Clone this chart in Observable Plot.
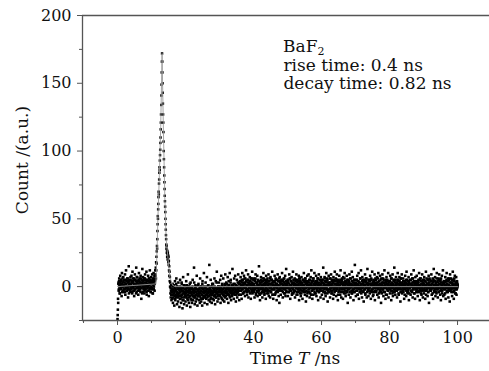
<!DOCTYPE html>
<html><head><meta charset="utf-8">
<script src="https://cdn.jsdelivr.net/npm/d3@7"></script>
<script src="https://cdn.jsdelivr.net/npm/@observablehq/plot@0.6"></script>
<style>body{margin:0;background:#fff} svg{display:block}</style>
</head><body><div id="chart"></div>
<script>
// ---- data ----
const xTicks = [0, 20, 40, 60, 80, 100];
const xMinorTicks = [-10, 10, 30, 50, 70, 90];
const yTicks = [0, 50, 100, 150, 200];
const yMinorTicks = [-25, 25, 75, 125, 175];
const xLabelParts = ["Time ", "T", " /ns"];
const yLabel = "Count /(a.u.)";
const noteName = "BaF";
const noteSub = "2";
const noteLines = ["rise time: 0.4 ns", "decay time: 0.82 ns"];

// before the pulse: t = 0.0 .. 11.1 ns, 0.1 ns sampling (channel A)
const preStart = 0, preStep = 0.1;
const preCounts = [
-24,-17,-12,3,-2,6,1,-5,8,2,-1,4,-7,10,0,3,-3,7,-4,1,
5,-2,9,-6,2,12,-1,4,-3,6,0,-8,3,15,-2,5,1,-4,7,2,
-1,8,3,-5,11,0,4,-3,6,-7,2,9,-2,5,1,14,-4,3,7,-1,
4,-6,2,10,-3,6,0,-2,8,3,-9,5,1,13,-4,7,2,-1,6,-5,
3,9,-2,5,0,11,-6,4,2,-3,8,1,-7,6,3,12,-1,4,-4,7,
2,-2,9,5,-5,3,10,0,6,-3,4,12];
// before the pulse: t = 0.05 .. 11.15 ns (channel B)
const preStart2 = 0.05;
const preCounts2 = [
-21,-9,2,-3,4,0,-5,3,1,-2,5,-1,2,-4,6,0,-3,4,1,-2,
3,0,-4,5,2,-1,4,-3,0,6,-2,3,1,-5,4,0,2,-3,5,1,
-2,4,0,-4,3,6,-1,2,-3,1,5,-2,0,4,-5,2,7,-1,3,0,
-3,5,1,-2,4,0,3,-4,6,1,-1,2,-5,3,0,4,-2,5,1,-3,
6,0,-2,3,1,-4,5,2,-1,4,0,-3,6,1,-2,3,5,-4,2,0,
4,-1,3,-5,6,1,-2,4,8,2,5,9];

// the pulse: t = 11.20 .. 15.95 ns, 0.05 ns sampling
const pkStart = 11.2, pkStep = 0.05;
const pkCounts = [
8,14,6,18,12,22,17,26,30,28,35,41,46,52,50,57,61,66,70,68,
76,79,84,88,86,93,97,101,106,110,116,121,127,134,141,149,158,166,172,
166,158,150,143,135,127,121,114,107,100,94,88,82,77,72,67,63,59,55,50,
46,42,38,35,31,28,30,25,27,22,26,24,20,25,21,23,18,22,16,19,
12,15,8,11,4,7,0,3,-5,-1,-8,-3,1,-6,-10,-4,-2];

// after the pulse: t = 16.0 .. 100.0 ns, 0.1 ns sampling (channel A)
const postStart = 16, postStep = 0.1;
const postCounts = [
-4,-9,2,-12,-6,1,-3,-14,-7,4,-10,-2,-8,6,-5,-13,0,-6,-11,3,
-7,-2,-15,-4,5,-9,-1,-12,-6,2,-8,-16,-3,7,-10,-5,-13,1,-7,-4,
-11,-3,4,-8,-14,-1,-6,9,-10,-4,-12,0,-7,-2,-15,3,-9,-5,-1,-12,
-6,5,-10,-3,-8,14,-4,-13,-7,1,-11,-2,-6,8,-9,-14,-3,-7,2,-10,
-5,-1,-12,6,-8,-3,-11,0,-6,-14,4,-9,-2,-7,10,-4,-12,-1,-8,3,
-3,-9,-5,7,-13,-2,-7,1,-10,-4,16,-6,-11,-1,5,-8,-3,-12,0,-6,
-9,2,-4,-10,-1,6,-7,-13,-3,4,-8,-5,11,-2,-11,-6,0,-9,3,-4,
-1,-7,5,-12,-3,8,-5,-9,1,-2,-10,6,-6,-4,-11,2,-8,9,-3,-7,
3,-5,-9,0,7,-2,-12,4,-6,-1,10,-8,-3,5,-10,-4,1,-7,13,-2,
-5,2,-9,6,-1,-6,8,-3,-11,1,-4,5,-8,0,-2,9,-6,3,-10,-1,
4,-3,7,-6,1,-9,3,10,-2,5,-5,0,8,-4,2,-7,6,-1,12,-3,
1,-6,5,-2,9,-8,3,0,-4,7,-1,4,-9,2,6,-3,11,-5,1,-2,
6,-4,2,-8,5,-1,9,-6,0,3,-3,8,-7,1,4,-2,15,-5,2,-10,
3,-1,7,-5,0,4,-8,6,-2,10,-4,1,-6,5,-3,2,-9,8,-1,3,
-5,6,1,-3,9,-7,2,4,-1,-8,7,0,-4,5,-2,11,-6,3,-9,1,
4,-2,8,-6,0,6,-4,2,-10,5,-1,9,-3,1,-7,4,-12,7,-2,3,
-6,2,5,-3,10,-1,-8,4,0,6,-5,3,-2,8,-7,1,13,-4,2,-1,
5,-7,3,0,-4,9,-2,6,-9,1,4,-3,7,-6,2,-1,11,-5,3,0,
-3,6,-8,2,5,-1,9,-4,1,-6,4,0,-2,8,-10,3,6,-5,1,-7,
2,7,-3,0,-9,5,1,-4,10,-2,3,-6,6,-1,-11,4,2,-7,8,0,
-4,3,9,-2,5,-8,1,-5,7,-1,12,-3,4,-9,0,6,-6,2,-2,10,
1,-5,4,-1,8,-7,3,0,-3,6,-10,2,9,-4,1,-2,5,-8,7,-1,
3,-6,0,5,-3,14,-9,2,-1,7,-4,4,-7,1,10,-2,6,-5,-11,3,
-2,8,-4,1,6,-8,3,-1,9,-5,2,5,-3,0,-9,7,-6,4,-2,11,
0,-3,6,-7,2,9,-1,4,-10,5,-4,1,8,-2,3,-6,12,-1,-8,4,
6,-2,1,-9,7,3,-5,0,10,-3,4,-7,2,-1,8,-4,5,-12,1,3,
-6,4,9,-1,2,-8,6,0,-3,11,-5,1,7,-2,-10,3,5,-4,16,-1,
2,-7,5,1,-3,8,-6,4,-1,10,-9,3,0,-4,6,-2,12,-5,2,-8,
7,0,-4,3,-11,5,1,-2,9,-6,4,-1,6,-8,2,13,-3,0,-7,5,
-1,4,-5,8,2,-9,6,-3,1,11,-2,-7,3,5,-4,0,9,-10,2,-1,
5,-3,1,7,-6,3,-1,10,-8,4,0,-4,8,-2,2,-12,6,-5,1,9,
-2,6,-7,3,0,12,-4,1,-9,5,-1,7,-6,2,4,-3,10,-8,0,3,
4,-5,8,-1,2,-10,6,1,-3,9,-7,0,5,-2,14,-4,3,-6,1,7,
-3,2,-8,5,10,-1,4,-6,0,7,-2,3,-11,6,-4,1,9,-5,2,-1,
6,-4,1,-9,4,0,8,-2,3,-7,11,-1,5,-5,2,-3,7,-10,4,0,
-1,5,-6,2,9,-3,0,6,-8,3,-2,12,-5,1,4,-9,7,-1,2,-4,
8,-2,3,-7,1,5,-4,10,-1,-10,6,0,-3,4,-6,2,9,-2,-8,5,
1,-5,7,-2,4,-9,0,11,-3,6,-1,2,-7,5,-4,8,-12,3,1,-2,
5,-3,0,9,-6,2,-1,6,-9,4,13,-4,1,-2,7,-7,3,0,-5,10,
-2,4,-8,1,6,-4,9,-1,2,-6,5,-10,3,0,8,-3,-1,12,-7,2,
3,-6,1,-2,7,-9,4,0,10,-4,2,-1,6,-8,-3,5,1,-11,9,-2,
0,6,-4,3,-7,2,11,-1,5,-9,-3,4,8,-5,1,-2,7,-6,3,-1,
2];
// after the pulse: t = 16.05 .. 100.05 ns (channel B)
const postStart2 = 16.05;
const postCounts2 = [
-3,-6,0,-8,-2,-5,1,-4,-9,-1,-6,-3,2,-7,-4,0,-5,-8,-2,-6,
-1,-5,-3,-9,0,-4,-7,-2,3,-6,-3,-10,-1,-5,1,-4,-8,-2,-6,0,
-5,-2,-7,1,-4,-9,-3,-6,0,-2,-8,-5,2,-3,-7,-1,-4,-10,-2,-6,
0,-4,-7,-2,-5,3,-3,-8,-1,-6,-4,0,-9,-2,-5,-7,1,-3,-6,-4,
-2,-7,-4,0,-5,-3,-9,-1,-6,2,-4,-2,-8,-5,0,-3,-7,-1,-4,-6,
-3,0,-6,-2,-8,-4,1,-5,-3,-7,-1,-4,-2,-9,0,-5,-3,-6,2,-4,
-5,-1,-3,-7,-2,0,-6,-4,-8,-1,-3,3,-5,-2,-7,-4,0,-6,-1,-3,
-2,-6,0,-4,-1,-8,-3,2,-5,-2,-6,0,-4,-7,-1,-3,1,-5,-2,-4,
-1,-4,2,-6,-2,0,-5,-3,1,-7,-2,-4,3,-1,-5,-3,0,-6,-2,1,
-3,0,-5,-1,2,-4,-2,-6,1,-3,0,-5,-2,3,-4,-1,-3,2,-6,0,
2,-1,4,-3,0,5,-2,1,-5,3,0,-4,2,6,-1,3,-3,0,4,-2,
-4,1,3,-2,5,0,-3,2,-1,4,-5,1,6,-2,0,3,-4,2,-1,5,
1,-3,0,4,-2,6,-1,-5,3,0,2,-4,5,-1,1,-3,4,0,-6,2,
0,5,-2,3,-4,1,-1,4,-3,2,6,0,-5,3,-2,1,4,-1,-3,5,
3,-2,1,-5,4,0,2,-3,6,-1,-4,2,0,5,-2,3,-6,1,4,-1,
-2,4,0,3,-5,1,5,-1,-3,2,0,-4,4,1,-2,6,-3,0,3,-1,
4,0,-3,2,-1,5,-4,1,3,-2,6,0,-5,2,-1,4,-3,1,0,3,
-1,3,5,-4,0,2,-2,6,-3,1,4,-1,0,-5,3,2,-2,5,-4,1,
2,-3,1,4,-1,0,-6,3,5,-2,1,-4,2,0,6,-3,-1,4,-2,3,
-5,2,0,3,-1,5,-3,1,-2,4,0,-4,6,-1,2,-3,3,1,-5,0,
4,-2,1,-4,3,0,5,-1,2,-6,1,3,-3,0,4,-2,6,-1,2,-4,
1,3,-5,2,0,-2,4,-3,6,1,-1,-4,3,0,5,-2,1,-3,2,4,
-3,0,5,-1,3,-4,2,1,-2,6,-5,0,3,-1,4,-2,0,5,-3,1,
2,-4,1,3,-2,0,6,-3,1,-1,4,-5,2,0,3,-2,5,-1,-4,2,
0,4,-1,-3,5,1,-2,3,-6,2,0,4,-3,1,-1,5,-4,2,3,-2,
5,-1,2,-4,0,3,-2,6,-1,1,-5,3,0,4,-3,2,-1,5,-2,0,
-2,3,-4,1,6,-1,0,2,-5,4,1,-3,3,0,-2,5,-4,1,2,-1,
3,0,-3,5,-1,2,-6,1,4,-2,0,3,-4,6,1,-1,2,-3,0,4,
-1,5,2,-3,0,4,-2,1,-5,3,6,-1,0,2,-4,3,1,-2,5,-3,
2,-1,4,0,-3,1,5,-4,2,-2,3,0,-6,4,1,-1,3,-3,6,0,
-4,2,0,3,-1,6,-2,1,-5,4,0,2,-3,5,-1,1,-4,3,0,-2,
3,-2,5,0,-4,2,1,-1,4,-6,3,0,-2,5,1,-3,2,4,-1,0,
-2,4,1,-3,6,0,-1,3,-5,2,1,-4,4,0,-2,5,-3,1,3,-1,
1,-3,3,0,-2,5,-5,2,0,4,-1,1,-4,6,2,-2,0,3,-3,1,
4,0,-2,2,-6,3,1,-1,5,-3,0,2,-4,4,1,-2,3,0,-5,2,
-1,2,5,-3,0,1,-4,3,6,-2,0,4,-1,-5,2,3,-2,1,4,-3,
0,-4,2,4,-1,3,-3,0,5,1,-2,6,-5,2,0,-1,4,-3,1,3,
2,5,-1,0,-3,4,1,-6,3,-2,2,0,5,-4,1,-1,3,6,-2,0,
-3,1,4,-2,2,0,-5,3,-1,5,1,-3,0,4,-2,2,-4,1,6,-1,
1,-2,3,0,-4,5,2,-1,4,-3,0,6,-2,1,-5,3,0,2,-1,4,
-2,4,0,-5,3,1,-1,5,-3,2,0,-4,4,1,-2,6,-1,3,0,-3,
3,0,-2,5,-1,2,-4,1,4,-3,6,0,-1,2,-5,3,1,-2,4,0,
1];

// fitted curve (grey line)
const fitT = [0, 11.3, 11.6, 11.9, 12.3, 12.7, 13.1, 13.5, 13.9, 14.3, 14.8, 15.4, 16.2, 17, 100];
const fitY = [0, 2, 25, 52, 82, 118, 172, 114, 67, 35, 22, 7, 1, 0, 0];

// ---- build tables ----
const baseline = [
  ...preCounts.map((c, i) => ({t: preStart + i * preStep, c})),
  ...preCounts2.map((c, i) => ({t: preStart2 + i * preStep, c})),
  ...postCounts.map((c, i) => ({t: postStart + i * postStep, c})),
  ...postCounts2.map((c, i) => ({t: postStart2 + i * postStep, c}))
];
const pulse = pkCounts.map((c, i) => ({t: pkStart + i * pkStep, c}));
const fit = fitT.map((t, i) => ({t, c: fitY[i]}));

const xDomain = [-10.3, 109.4];
const yDomain = [-25, 200];
const axisColor = "#555";

const plot = Plot.plot({
  width: 489,
  height: 371,
  marginLeft: 82,
  marginRight: 0,
  marginTop: 15,
  marginBottom: 51,
  style: {fontFamily: "'DejaVu Serif', serif", fontSize: "16px", color: "#111", background: "#fff"},
  x: {domain: xDomain},
  y: {domain: yDomain},
  marks: [
    Plot.dot(baseline, {x: "t", y: "c", symbol: "square", r: 1.45, fill: "#000", stroke: "none"}),
    Plot.dot(pulse, {x: "t", y: "c", symbol: "square", r: 1.4, fill: "#000", stroke: "none"}),
    Plot.line(fit, {x: "t", y: "c", stroke: "#9a9a9a", strokeWidth: 0.9}),
    Plot.ruleY([yDomain[1]], {stroke: axisColor, strokeWidth: 1.3}),
    Plot.ruleY([yDomain[0]], {stroke: axisColor, strokeWidth: 1.3}),
    Plot.ruleX([xDomain[0]], {stroke: axisColor, strokeWidth: 1.3}),
    Plot.axisX({ticks: xTicks, tickSize: 5, tickPadding: 6, fontSize: 16, label: null, stroke: axisColor, color: "#111"}),
    Plot.axisX({ticks: xMinorTicks, tickSize: 3, tickFormat: () => "", label: null, stroke: axisColor}),
    Plot.axisY({ticks: yTicks, tickSize: 5, tickPadding: 6, fontSize: 16, label: null, stroke: axisColor}),
    Plot.axisY({ticks: yMinorTicks, tickSize: 3, tickFormat: () => "", label: null, stroke: axisColor}),
    Plot.text([noteLines.join("\n")], {x: 48.8, y: 168.2, text: d => d, textAnchor: "start", lineAnchor: "top", lineHeight: 1.06, fontSize: 17, fill: "#111"})
  ]
});

const svg = d3.select(plot);
// compound name with subscript, above the other note lines
const nm = svg.append("text")
  .attr("x", 283).attr("y", 52)
  .attr("text-anchor", "start")
  .attr("font-size", 17).attr("fill", "#111");
nm.append("tspan").text(noteName);
nm.append("tspan").attr("font-size", 11).attr("dy", 3).text(noteSub);

const xl = svg.append("text")
  .attr("x", 295).attr("y", 364)
  .attr("text-anchor", "middle")
  .attr("font-size", 17).attr("fill", "#111");
xLabelParts.forEach((p, i) => xl.append("tspan").attr("font-style", i === 1 ? "italic" : null).text(p));
svg.append("text")
  .attr("transform", "translate(28,160) rotate(-90)")
  .attr("text-anchor", "middle")
  .attr("font-size", 17).attr("fill", "#111")
  .text(yLabel);

document.getElementById("chart").append(plot);
</script>
</body></html>
